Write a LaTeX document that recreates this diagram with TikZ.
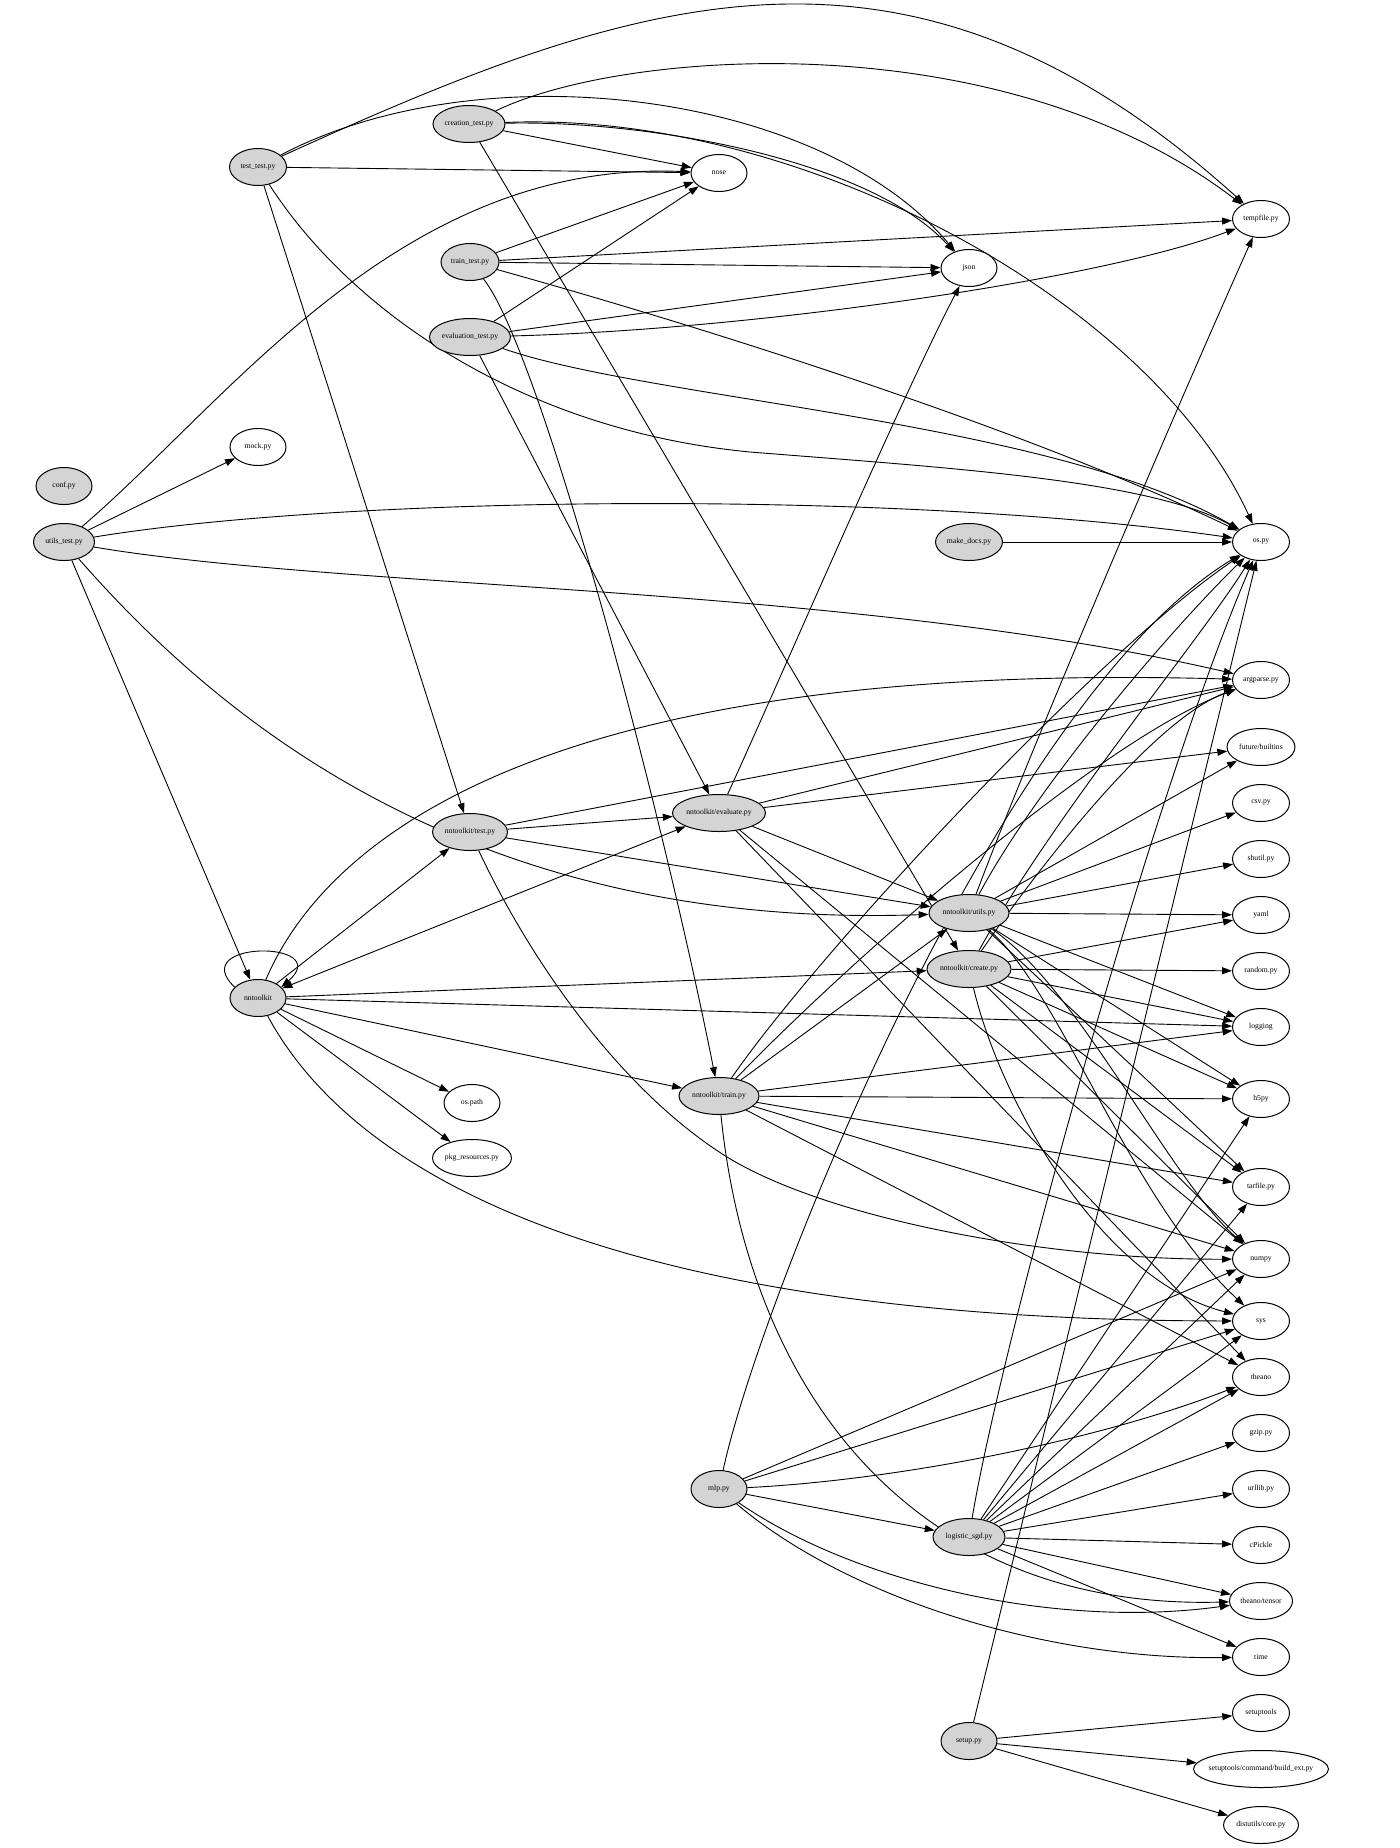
\documentclass[tikz,border=0pt]{standalone}
\usepackage{fontspec}
\setmainfont{Liberation Serif}
\usetikzlibrary{shapes.geometric,arrows.meta,backgrounds}
\tikzset{
  nd/.style={ellipse, draw, line width=1pt, inner sep=0pt, minimum height=37pt,
    minimum width=57pt, font=\fontsize{7.7}{9}\selectfont},
  src/.style={nd, fill=black!17},
  dst/.style={nd, fill=white},
  e/.style={line width=0.9pt, -{Triangle[length=10pt,width=7pt]}},
  eb/.style={line width=0.9pt, {Triangle[length=10pt,width=7pt]}-{Triangle[length=10pt,width=7pt]}},
}
\newcommand{\lbl}[1]{\makebox[0pt]{#1}}
\begin{document}
\begin{tikzpicture}[x=1pt,y=-1pt]
\useasboundingbox (0,0) rectangle (1400,1848);
% nodes
\node[src] (tt) at (258,167) {\lbl{test\_test.py}};
\node[src, minimum width=72pt] (ct) at (469,124) {\lbl{creation\_test.py}};
\node[dst, minimum width=56pt] (nose) at (719,173) {\lbl{nose}};
\node[src, minimum width=58pt] (trt) at (470,262) {\lbl{train\_test.py}};
\node[dst, minimum width=56pt] (json) at (969,268) {\lbl{json}};
\node[src, minimum width=81pt] (et) at (470,337) {\lbl{evaluation\_test.py}};
\node[dst] (tmp) at (1261,219) {\lbl{tempfile.py}};
\node[dst, minimum width=56pt] (mock) at (258,447) {\lbl{mock.py}};
\node[src, minimum width=56pt] (conf) at (64,486) {\lbl{conf.py}};
\node[src, minimum width=61pt] (ut) at (64,542) {\lbl{utils\_test.py}};
\node[src, minimum width=67pt] (mk) at (969,542) {\lbl{make\_docs.py}};
\node[dst] (os) at (1261,542) {\lbl{os.py}};
\node[dst] (arg) at (1261,680) {\lbl{argparse.py}};
\node[dst, minimum width=68pt] (fut) at (1261,747) {\lbl{future/builtins}};
\node[dst] (csv) at (1261,803) {\lbl{csv.py}};
\node[src, minimum width=93pt] (ev) at (719,813) {\lbl{nntoolkit/evaluate.py}};
\node[src, minimum width=75pt] (tp) at (470,832) {\lbl{nntoolkit/test.py}};
\node[dst] (sh) at (1261,859) {\lbl{shutil.py}};
\node[src, minimum width=80pt] (nu) at (969,913) {\lbl{nntoolkit/utils.py}};
\node[dst] (yaml) at (1261,915) {\lbl{yaml}};
\node[src, minimum width=56pt] (nn) at (258,998) {\lbl{nntoolkit}};
\node[src, minimum width=84pt] (cr) at (969,969) {\lbl{nntoolkit/create.py}};
\node[dst] (rnd) at (1261,971) {\lbl{random.py}};
\node[dst] (log) at (1261,1027) {\lbl{logging}};
\node[dst, minimum width=56pt] (osp) at (472,1103) {\lbl{os.path}};
\node[src, minimum width=80pt] (tr) at (719,1096) {\lbl{nntoolkit/train.py}};
\node[dst] (h5) at (1261,1099) {\lbl{h5py}};
\node[dst, minimum width=79pt] (pkg) at (472,1158) {\lbl{pkg\_resources.py}};
\node[dst] (tar) at (1261,1187) {\lbl{tarfile.py}};
\node[dst] (np) at (1261,1259) {\lbl{numpy}};
\node[dst] (sys) at (1261,1321) {\lbl{sys}};
\node[dst] (th) at (1261,1377) {\lbl{theano}};
\node[dst] (gz) at (1261,1433) {\lbl{gzip.py}};
\node[src, minimum width=56pt] (mlp) at (719,1489) {\lbl{mlp.py}};
\node[dst] (url) at (1261,1489) {\lbl{urllib.py}};
\node[src, minimum width=72pt] (lg) at (969,1537) {\lbl{logistic\_sgd.py}};
\node[dst] (cp) at (1261,1545) {\lbl{cPickle}};
\node[dst, minimum width=63pt] (tht) at (1261,1601) {\lbl{theano/tensor}};
\node[dst] (time) at (1261,1657) {\lbl{time}};
\node[src, minimum width=56pt] (setup) at (969,1741) {\lbl{setup.py}};
\node[dst] (stt) at (1261,1713) {\lbl{setuptools}};
\node[dst, minimum width=135pt] (be) at (1261,1769) {\lbl{setuptools/command/build\_ext.py}};
\node[dst, minimum width=75pt] (dc) at (1261,1825) {\lbl{distutils/core.py}};

\begin{pgfonlayer}{background}
\fill[white] (0,0) rectangle (1400,1848);
% test_test.py
\draw[e] (tt) .. controls (644,-9) and (910,-97) .. (tmp);
\draw[e] (tt) .. controls (480,50) and (820,90) .. (json);
\draw[e] (tt) -- (nose);
\draw[e] (tt) .. controls (350,310) and (520,430) .. (750,452) .. controls (950,468) and (1150,480) .. (os);
\draw[e] (tt) -- (tp);
% creation_test.py
\draw[e] (ct) .. controls (620,50) and (1000,20) .. (tmp);
\draw[e] (ct) .. controls (650,120) and (870,160) .. (json);
\draw[e] (ct) .. controls (800,110) and (1150,300) .. (os);
\draw[e] (ct) -- (nose);
\draw[e] (ct) -- (cr);
% train_test.py
\draw[e] (trt) -- (nose);
\draw[e] (trt) -- (tmp);
\draw[e] (trt) -- (json);
\draw[e] (trt) .. controls (750,340) and (1050,440) .. (os);
\draw[e] (trt) .. controls (540,350) and (660,800) .. (tr);
% evaluation_test.py
\draw[e] (et) -- (nose);
\draw[e] (et) -- (json);
\draw[e] (et) .. controls (750,330) and (1100,280) .. (tmp);
\draw[e] (et) .. controls (650,400) and (1050,420) .. (os);
\draw[e] (et) -- (ev);
% utils_test.py
\draw[e] (ut) .. controls (230,400) and (400,160) .. (nose);
\draw[e] (ut) -- (mock);
\draw[e] (ut) .. controls (350,495) and (900,490) .. (os);
\draw[e] (ut) .. controls (350,590) and (850,585) .. (arg);
\draw[e] (ut) -- (nn);
\draw[e] (ut) .. controls (220,720) and (470,930) .. (nu);
% make_docs.py
\draw[e] (mk) -- (os);
% nntoolkit/test.py
\draw[e] (tp) -- (arg);
\draw[e] (tp) -- (ev);
\draw[e] (tp) -- (nu);
\draw[e] (tp) .. controls (530,960) and (620,1090) .. (727,1157) .. controls (830,1220) and (1050,1260) .. (np);
% nntoolkit/evaluate.py
\draw[e] (ev) .. controls (780,680) and (900,400) .. (json);
\draw[e] (ev) -- (arg);
\draw[e] (ev) -- (fut);
\draw[e] (ev) -- (nu);
\draw[eb] (ev) -- (nn);
\draw[e] (ev) -- (np);
\draw[e] (ev) -- (th);
% nntoolkit
\draw[e] (nn) .. controls (330,830) and (560,660) .. (arg);
\draw[e] (nn) -- (cr);
\draw[e] (nn) -- (log);
\draw[e] (nn) -- (tr);
\draw[e] (nn) -- (osp);
\draw[e] (nn) -- (pkg);
\draw[e] (nn) .. controls (340,1150) and (560,1320) .. (sys);
\draw[e] (nn) -- (tp);
\draw[e] (nn.155) .. controls (185,940) and (335,940) .. (nn.25);
% nntoolkit/utils.py
\draw[e] (nu) .. controls (1030,750) and (1180,400) .. (tmp);
\draw[e] (nu) .. controls (1040,780) and (1180,620) .. (os);
\draw[e] (nu) -- (fut);
\draw[e] (nu) -- (csv);
\draw[e] (nu) -- (sh);
\draw[e] (nu) -- (yaml);
\draw[e] (nu) -- (log);
\draw[e] (nu) -- (h5);
\draw[e] (nu) -- (tar);
\draw[e] (nu) .. controls (1080,990) and (1170,1180) .. (np);
\draw[e] (nu) .. controls (1060,990) and (1130,1200) .. (sys);
% nntoolkit/create.py
\draw[e] (cr) .. controls (1030,880) and (1150,720) .. (arg);
\draw[e] (cr) .. controls (1050,820) and (1200,640) .. (os);
\draw[e] (cr) -- (yaml);
\draw[e] (cr) -- (rnd);
\draw[e] (cr) -- (log);
\draw[e] (cr) -- (h5);
\draw[e] (cr) -- (tar);
\draw[e] (cr) -- (np);
\draw[e] (cr) .. controls (1000,1100) and (1100,1280) .. (sys);
% nntoolkit/train.py
\draw[e] (tr) -- (nu);
\draw[e] (tr) .. controls (820,950) and (1100,650) .. (os);
\draw[e] (tr) .. controls (850,960) and (1100,740) .. (arg);
\draw[e] (tr) -- (log);
\draw[e] (tr) -- (h5);
\draw[e] (tr) -- (tar);
\draw[e] (tr) -- (np);
\draw[e] (tr) -- (th);
\draw[e] (tr) .. controls (750,1400) and (920,1610) .. (tht);
% mlp.py
\draw[e] (mlp) .. controls (760,1300) and (1000,700) .. (os);
\draw[e] (mlp) -- (np);
\draw[e] (mlp) -- (sys);
\draw[e] (mlp) .. controls (900,1480) and (1100,1440) .. (th);
\draw[e] (mlp) -- (lg);
\draw[e] (mlp) .. controls (850,1580) and (1050,1630) .. (tht);
\draw[e] (mlp) .. controls (850,1600) and (1050,1660) .. (time);
% logistic_sgd.py
\draw[e] (lg) .. controls (1000,1350) and (1150,800) .. (os);
\draw[e] (lg) -- (h5);
\draw[e] (lg) -- (tar);
\draw[e] (lg) -- (np);
\draw[e] (lg) -- (sys);
\draw[e] (lg) -- (th);
\draw[e] (lg) -- (gz);
\draw[e] (lg) -- (url);
\draw[e] (lg) -- (cp);
\draw[e] (lg) -- (tht);
\draw[e] (lg) -- (time);
% setup.py
\draw[e] (setup) -- (os);
\draw[e] (setup) -- (stt);
\draw[e] (setup) -- (be);
\draw[e] (setup) -- (dc);
\end{pgfonlayer}
\end{tikzpicture}
\end{document}
